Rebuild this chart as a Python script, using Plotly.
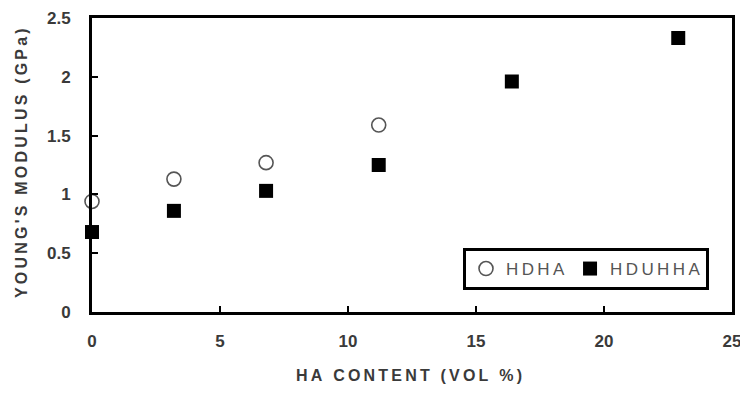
import plotly.graph_objects as go

hdha_x = [0.0, 3.2, 6.8, 11.2]
hdha_y = [0.94, 1.13, 1.27, 1.59]
hduhha_x = [0.0, 3.2, 6.8, 11.2, 16.4, 22.9]
hduhha_y = [0.68, 0.86, 1.03, 1.25, 1.96, 2.33]
x_ticks = [0, 5, 10, 15, 20, 25]
y_ticks = [0, 0.5, 1, 1.5, 2, 2.5]
y_tick_labels = ["0", "0.5", "1", "1.5", "2", "2.5"]

TS = "\u2009"  # thin space for letter spacing


def spaced(s):
    return TS.join(list(s))


font_family = "Liberation Sans Narrow, Liberation Sans, Arial, sans-serif"
title_family = "Liberation Sans, Arial, sans-serif"
text_color = "#3a3a3a"

# page body adds an 8px margin on every side; size the figure so the page fits the window
W, H = 732, 378
L, R, T, B = 84, 8, 10, 74
PW, PH = W - L - R, H - T - B

fig = go.Figure()
fig.add_trace(go.Scatter(
    x=hdha_x, y=hdha_y, mode="markers", name=spaced("HDHA"),
    marker=dict(symbol="circle-open", size=14, color="#555555", line=dict(width=1.6)),
    cliponaxis=False,
))
fig.add_trace(go.Scatter(
    x=hduhha_x, y=hduhha_y, mode="markers", name=spaced("HDUHHA"),
    marker=dict(symbol="square", size=14, color="black"),
    cliponaxis=False,
))

fig.update_layout(
    width=W, height=H,
    margin=dict(l=L, r=R, t=T, b=B),
    paper_bgcolor="white", plot_bgcolor="white",
    font=dict(family=font_family, color=text_color, size=13),
    showlegend=True,
    legend=dict(
        x=(455 - L) / PW, y=(304 - 240) / PH, xanchor="left", yanchor="top",
        orientation="h",
        bordercolor="black", borderwidth=3, bgcolor="white",
        font=dict(size=17, color="#555555", family=title_family),
        itemwidth=30,
    ),
    xaxis=dict(
        range=[0, 25], tickvals=x_ticks, ticks="inside", ticklen=6, tickwidth=1.5,
        tickcolor="black", showline=True, linecolor="black", linewidth=3, mirror=True,
        showgrid=False, zeroline=False, ticklabelstandoff=12, automargin=False,
        ticklabeloverflow="allow",
        tickfont=dict(size=17, color=text_color, family=font_family, weight="bold"),
    ),
    yaxis=dict(
        range=[0, 2.5], tickvals=y_ticks, ticktext=y_tick_labels, ticks="inside", ticklen=6,
        tickwidth=1.5, tickcolor="black", showline=True, linecolor="black", linewidth=3,
        mirror=True, showgrid=False, zeroline=False, ticklabelstandoff=15, automargin=False,
        tickfont=dict(size=17, color=text_color, family=font_family, weight="bold"),
    ),
    annotations=[
        dict(text=spaced("HA CONTENT (VOL %)"), xref="paper", yref="paper",
             x=(401 - L) / PW, y=-(H - 1 - T - PH) / PH, xanchor="center", yanchor="bottom",
             showarrow=False, borderpad=0,
             font=dict(size=16, color=text_color, family=title_family, weight="bold")),
        dict(text=spaced("YOUNG'S MODULUS (GPa)"), xref="paper", yref="paper",
             x=(13 - L) / PW, y=(304 - 155) / PH, xanchor="center", yanchor="middle",
             textangle=-90, showarrow=False,
             font=dict(size=16, color=text_color, family=title_family, weight="bold")),
    ],
)

fig.write_html("out.html")
